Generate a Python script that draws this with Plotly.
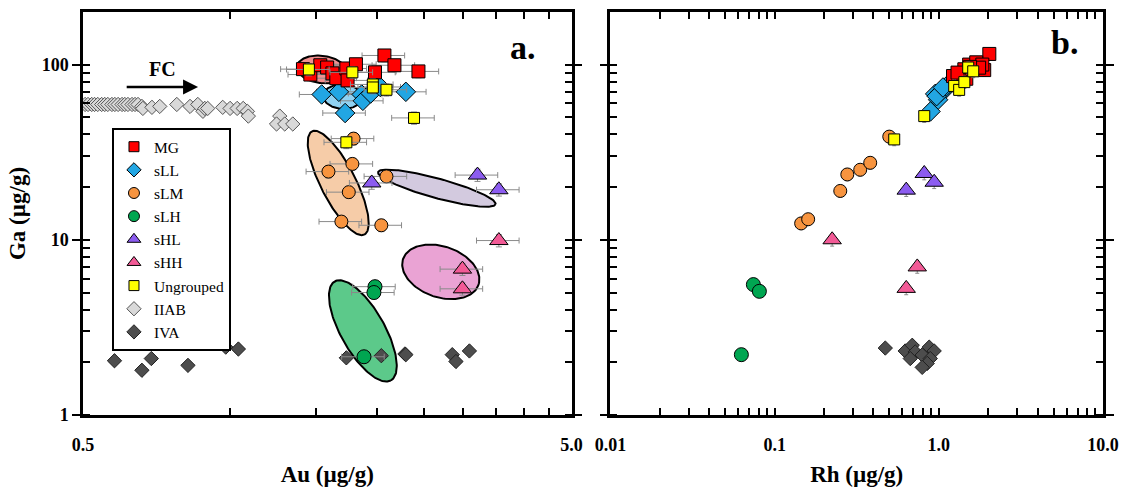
import numpy as np
import plotly.graph_objects as go

# ---------------- data (panel a: Au vs Ga) ----------------
mg_au = [1.41, 1.46, 1.53, 1.58, 1.62, 1.65, 1.73, 1.74, 1.81, 1.98, 2.07, 2.17, 2.43]
mg_ga = [94.2, 87.7, 99.1, 96.2, 89.1, 83.6, 95.0, 81.2, 100.4, 90.3, 112.7, 99.1, 91.4]
sll_au = [1.54, 1.67, 1.86, 1.87, 1.94, 2.03, 2.29, 1.72]
sll_ga = [67.5, 69.9, 67.5, 62.1, 68.4, 74.5, 69.9, 52.9]
slm_au = [1.79, 1.78, 1.59, 1.75, 1.69, 2.04, 2.09]
slm_ga = [37.8, 27.1, 24.5, 18.7, 12.7, 12.1, 23.0]
slh_au = [1.98, 1.97, 1.88]
slh_ga = [5.4, 5.0, 2.15]
shl_au = [1.95, 3.21, 3.55]
shl_ga = [21.1, 23.4, 19.3]
shh_au = [3.55, 2.99, 2.99]
shh_ga = [9.9, 6.8, 5.25]
ung_au = [1.45, 1.78, 1.96, 1.96, 2.09, 2.38, 1.73]
ung_ga = [93.8, 90.3, 77.0, 74.0, 71.8, 49.6, 36.0]
iiab_au = [0.505, 0.512, 0.521, 0.528, 0.536, 0.546, 0.554, 0.562, 0.573, 0.581,
           0.590, 0.601, 0.609, 0.618, 0.630, 0.639, 0.648, 0.660, 0.663, 0.692,
           0.718, 0.778, 0.828, 0.859, 0.880, 0.888, 0.900, 0.966, 1.000, 1.034,
           1.064, 1.085, 1.090, 1.264, 1.245, 1.294, 1.344]
iiab_ga = [59.2, 59.2, 59.2, 59.2, 59.2, 59.2, 59.2, 59.2, 59.2, 59.2,
           59.2, 59.2, 59.2, 59.2, 59.2, 59.2, 59.2, 57.7, 56.2, 57.0,
           57.7, 59.2, 57.7, 59.2, 54.1, 56.2, 56.2, 57.0, 56.2, 56.2,
           56.2, 54.1, 50.8, 50.8, 45.8, 45.8, 45.8]
iva_au = [0.58, 0.66, 0.69, 0.82, 0.98, 1.04, 1.73, 2.04, 2.28, 2.29, 2.85, 2.90, 3.09]
iva_ga = [2.04, 1.80, 2.10, 1.92, 2.44, 2.38, 2.12, 2.18, 2.23, 2.21, 2.21, 2.02, 2.32]

# ---------------- data (panel b: Rh vs Ga) ----------------
mg_rh = [2.03, 1.89, 1.22, 1.43, 1.53, 1.69, 1.84, 1.47, 1.37, 1.60, 1.76, 1.30, 1.55]
mg_gab = [115, 93, 86, 94, 100, 103, 100, 83, 88, 94, 96, 90, 97]
sll_rh = [0.95, 1.09, 0.99, 0.89, 1.14, 1.03, 0.97, 1.06]
sll_gab = [68, 72, 63, 54, 77, 70, 66, 74]
slm_rh = [0.499, 0.277, 0.332, 0.382, 0.251, 0.145, 0.160]
slm_gab = [38.8, 23.6, 25.1, 27.5, 19.0, 12.4, 13.1]
slh_rh = [0.0742, 0.0807, 0.0627]
slh_gab = [5.55, 5.08, 2.21]
shl_rh = [0.633, 0.815, 0.937]
shl_gab = [19.2, 23.9, 21.3]
shh_rh = [0.224, 0.739, 0.633]
shh_gab = [10.0, 7.0, 5.28]
ung_rh = [0.815, 0.535, 1.24, 1.33, 1.43, 1.51, 1.62]
ung_gab = [50.8, 37.4, 75.5, 71.7, 79.4, 96.2, 91.5]
iva_rh = [0.472, 0.624, 0.689, 0.718, 0.670, 0.792, 0.874, 0.937, 0.887, 0.850, 0.792]
iva_gab = [2.41, 2.32, 2.50, 2.29, 2.10, 2.20, 2.44, 2.32, 2.10, 1.97, 1.87]

# ---------------- group ellipses (panel a) ----------------
ell_names = ["MG", "sLL", "sLM", "sHL", "sHH", "sLH"]
ell_au = [1.54, 1.70, 1.665, 2.65, 2.70, 1.87]
ell_ga = [93.8, 65.6, 21.1, 19.7, 6.56, 3.02]
ell_a = [25, 19.5, 59, 61, 40, 58]       # semi axes (px)
ell_b = [14, 12.5, 17.6, 10, 26, 22]
ell_ang = [7, 3, 63.7, 15.6, 20, 61.2]   # screen angle, clockwise (deg)
ell_fill = ["#f29090", "#90d2f2", "#f6cca8", "#d3cadf", "#eaa3d4", "#5cc98a"]

x1_ticks = [0.5, 1, 1.5, 2, 2.5, 3, 3.5, 4, 4.5, 5]
x1_text = ["0.5", "", "", "", "", "", "", "", "", "5.0"]
x2_ticks = [0.01, 0.02, 0.03, 0.04, 0.05, 0.06, 0.07, 0.08, 0.09,
            0.1, 0.2, 0.3, 0.4, 0.5, 0.6, 0.7, 0.8, 0.9,
            1, 2, 3, 4, 5, 6, 7, 8, 9, 10]
x2_text = ["0.01"] + [""] * 8 + ["0.1"] + [""] * 8 + ["1.0"] + [""] * 8 + ["10.0"]

# ---------------- layout geometry ----------------
W, H = 1128, 492
ML, MR, MT, MB = 83, 24, 9, 70
PW = W - ML - MR
PH = H - MT - MB
X1_DOM = [0, 489 / PW]
X2_DOM = [528 / PW, 1]
X1_RANGE = [np.log10(0.5), np.log10(5)]
X2_RANGE = [-2, 1]
Y_RANGE = [0, 2.3]
ppd_x1 = PW * (X1_DOM[1] - X1_DOM[0]) / (X1_RANGE[1] - X1_RANGE[0])
ppd_y = PH / (Y_RANGE[1] - Y_RANGE[0])

FONT = "Liberation Serif"


def ellipse(cx, cy, a, b, ang, n=160):
    t = np.linspace(0, 2 * np.pi, n)
    th = np.radians(ang)
    dx = a * np.cos(t) * np.cos(th) - b * np.sin(t) * np.sin(th)
    dy = a * np.cos(t) * np.sin(th) + b * np.sin(t) * np.cos(th)
    return 10 ** (np.log10(cx) + dx / ppd_x1), 10 ** (np.log10(cy) - dy / ppd_y)


fig = go.Figure()

for i in range(len(ell_names)):
    ex, ey = ellipse(ell_au[i], ell_ga[i], ell_a[i], ell_b[i], ell_ang[i])
    fig.add_trace(go.Scatter(x=ex, y=ey, mode="lines", fill="toself",
                             fillcolor=ell_fill[i], line=dict(color="black", width=2),
                             showlegend=False, hoverinfo="skip", xaxis="x", yaxis="y"))

groups = [
    # name, au, ga, rh, gab, symbol, size, color, linecolor, errors, rank
    ("IIAB", iiab_au, iiab_ga, None, None, "diamond", 11, "#d9d9d9", "#555555", False, 8),
    ("IVA", iva_au, iva_ga, iva_rh, iva_gab, "diamond", 11, "#4d4d4d", "#222222", False, 9),
    ("sLL", sll_au, sll_ga, sll_rh, sll_gab, "diamond", 15, "#22a6e3", "black", True, 2),
    ("MG", mg_au, mg_ga, mg_rh, mg_gab, "square", 13, "#ff0000", "black", True, 1),
    ("sLM", slm_au, slm_ga, slm_rh, slm_gab, "circle", 13, "#f7943f", "black", True, 3),
    ("sLH", slh_au, slh_ga, slh_rh, slh_gab, "circle", 14, "#00a651", "black", True, 4),
    ("sHL", shl_au, shl_ga, shl_rh, shl_gab, "triangle-up", 16, "#8c5cf0", "black", True, 5),
    ("sHH", shh_au, shh_ga, shh_rh, shh_gab, "triangle-up", 16, "#f25a96", "black", True, 6),
    ("Ungrouped", ung_au, ung_ga, ung_rh, ung_gab, "square", 11, "#ffff00", "black", True, 7),
]
legend_size = {"diamond": 11, "square": 10, "circle": 11, "triangle-up": 12}

for name, au, ga, rh, gab, sym, size, col, lc, err, rank in groups:
    mk = dict(symbol=sym, size=size, color=col, line=dict(color=lc, width=1))
    ex = dict(type="percent", value=10, color="#8a8a8a", thickness=1, width=3) if err else None
    ey = dict(type="percent", value=8, color="#8a8a8a", thickness=1, width=3) if err else None
    fig.add_trace(go.Scatter(x=au, y=ga, mode="markers", name=name, marker=mk,
                             error_x=ex, error_y=ey, showlegend=False,
                             xaxis="x", yaxis="y"))
    # legend entry (smaller symbol, like the reference key)
    fig.add_trace(go.Scatter(x=[None], y=[None], mode="markers", name=name,
                             marker=dict(symbol=sym, size=legend_size[sym], color=col,
                                         line=dict(color=lc, width=1)),
                             legendrank=rank, xaxis="x", yaxis="y"))
    if rh is not None:
        ex2 = dict(type="percent", value=4, color="#8a8a8a", thickness=1, width=2) if err else None
        ey2 = dict(type="percent", value=8, color="#8a8a8a", thickness=1, width=2) if err else None
        fig.add_trace(go.Scatter(x=rh, y=gab, mode="markers", name=name, marker=mk,
                                 error_x=ex2, error_y=ey2, showlegend=False,
                                 xaxis="x2", yaxis="y2"))

axis_common = dict(showgrid=False, zeroline=False, showline=True, linecolor="black",
                   linewidth=2.5, mirror="allticks", tickcolor="black", tickwidth=1.5,
                   tickfont=dict(family=FONT, size=18, color="black", weight="bold"))
title_font = dict(family=FONT, size=23, color="black", weight="bold")

fig.update_layout(
    width=W, height=H, margin=dict(l=ML, r=MR, t=MT, b=MB),
    paper_bgcolor="white", plot_bgcolor="white",
    xaxis=dict(type="log", domain=X1_DOM, range=X1_RANGE, anchor="y",
               tickvals=x1_ticks, ticktext=x1_text, ticks="inside", ticklen=7,
               ticklabelstandoff=12,
               title=dict(text="Au (µg/g)", font=title_font, standoff=12), **axis_common),
    xaxis2=dict(type="log", domain=X2_DOM, range=X2_RANGE, anchor="y2",
                tickvals=x2_ticks, ticktext=x2_text, ticks="inside", ticklen=7,
                ticklabelstandoff=12,
                title=dict(text="Rh (µg/g)", font=title_font, standoff=12), **axis_common),
    yaxis=dict(type="log", range=Y_RANGE, anchor="x", ticks="outside", ticklen=8,
               tickvals=[1, 10, 100], ticktext=["1", "10", "100"],
               minor=dict(ticks="inside", ticklen=7, tickcolor="black", tickwidth=1.5,
                          dtick="D1"),
               title=dict(text="Ga (µg/g)", font=title_font, standoff=10), **axis_common),
    yaxis2=dict(type="log", range=Y_RANGE, anchor="x2", ticks="outside", ticklen=8,
                tickvals=[1, 10, 100], showticklabels=False,
                minor=dict(ticks="inside", ticklen=7, tickcolor="black", tickwidth=1.5,
                           dtick="D1"),
                **axis_common),
    legend=dict(x=(112 - ML) / PW, y=(422 - 128) / PH, xanchor="left", yanchor="top",
                bgcolor="white", bordercolor="black", borderwidth=2,
                font=dict(family=FONT, size=15.5, color="black"),
                itemsizing="trace", itemwidth=30, tracegroupgap=0),
    showlegend=True,
)

fig.add_annotation(text="<b>a.</b>", xref="paper", yref="paper",
                   x=(523 - ML) / PW, y=(422 - 45) / PH, showarrow=False,
                   xanchor="center", yanchor="middle",
                   font=dict(family=FONT, size=34, color="black"))
fig.add_annotation(text="<b>b.</b>", xref="paper", yref="paper",
                   x=(1065 - ML) / PW, y=(422 - 40) / PH, showarrow=False,
                   xanchor="center", yanchor="middle",
                   font=dict(family=FONT, size=34, color="black"))
fig.add_annotation(text="<b>FC</b>", xref="paper", yref="paper",
                   x=(163 - ML) / PW, y=(422 - 67) / PH, showarrow=False,
                   xanchor="center", yanchor="middle",
                   font=dict(family=FONT, size=20, color="black"))
fig.add_annotation(text="", xref="x", yref="y", axref="x", ayref="y",
                   x=np.log10(0.86), y=np.log10(74.5), ax=np.log10(0.61), ay=np.log10(74.5),
                   showarrow=True, arrowhead=2, arrowsize=1.2, arrowwidth=2.5,
                   arrowcolor="black")

fig.write_html("out.html")
